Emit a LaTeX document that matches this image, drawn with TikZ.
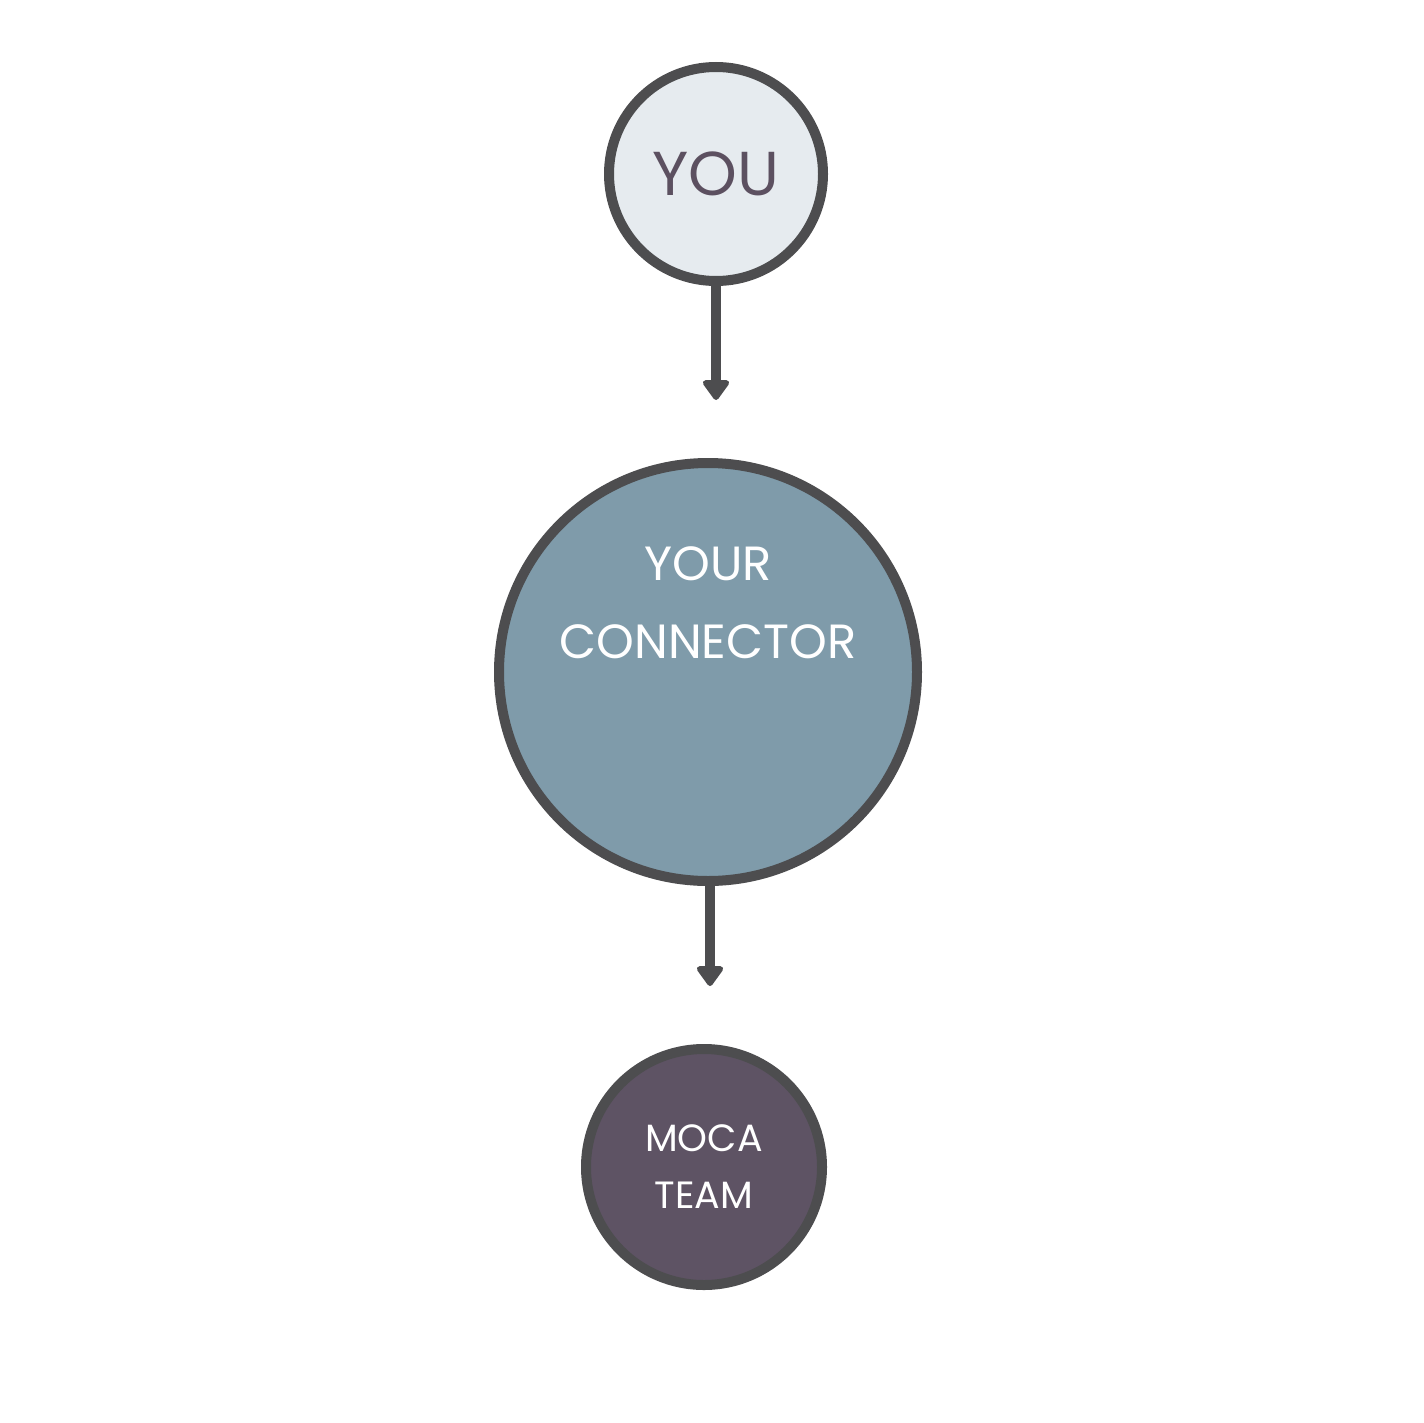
\documentclass[tikz,border=0pt]{standalone}
\usepackage{fontspec}
\setmainfont{Poppins}
\usetikzlibrary{arrows.meta}
\definecolor{edge}{HTML}{4D4D4F}
\definecolor{youfill}{HTML}{E6EBEF}
\definecolor{youtext}{HTML}{5C5060}
\definecolor{confill}{HTML}{7F9BAA}
\definecolor{mocafill}{HTML}{5E5364}
\tikzset{
  bubble/.style={circle,draw=edge,line width=10pt,inner sep=0pt,align=center},
  flow/.style={draw=edge,line width=10pt,-{Triangle[width=30pt,length=22pt,round]}}
}
\begin{document}
\begin{tikzpicture}[x=1pt,y=-1pt]
\useasboundingbox (0,0) rectangle (1423,1423);
\node[bubble,fill=youfill,minimum size=214pt,text=youtext,font=\fontsize{62}{70}\selectfont] (you) at (716,174) {YOU};
\node[bubble,fill=confill,minimum size=418pt,text=white,font=\fontsize{48}{78}\selectfont] (con) at (708,672) {YOUR\\CONNECTOR\\[60pt]\mbox{}};
\node[bubble,fill=mocafill,minimum size=236pt,text=white,font=\fontsize{38}{57}\selectfont] (moca) at (704,1167) {MOCA\\TEAM};
\coordinate (a1) at (716,400);
\coordinate (a2) at (710,986);
\draw[flow] (you.south) -- (a1);
\draw[flow] (con.south -| a2) -- (a2);
\end{tikzpicture}
\end{document}
